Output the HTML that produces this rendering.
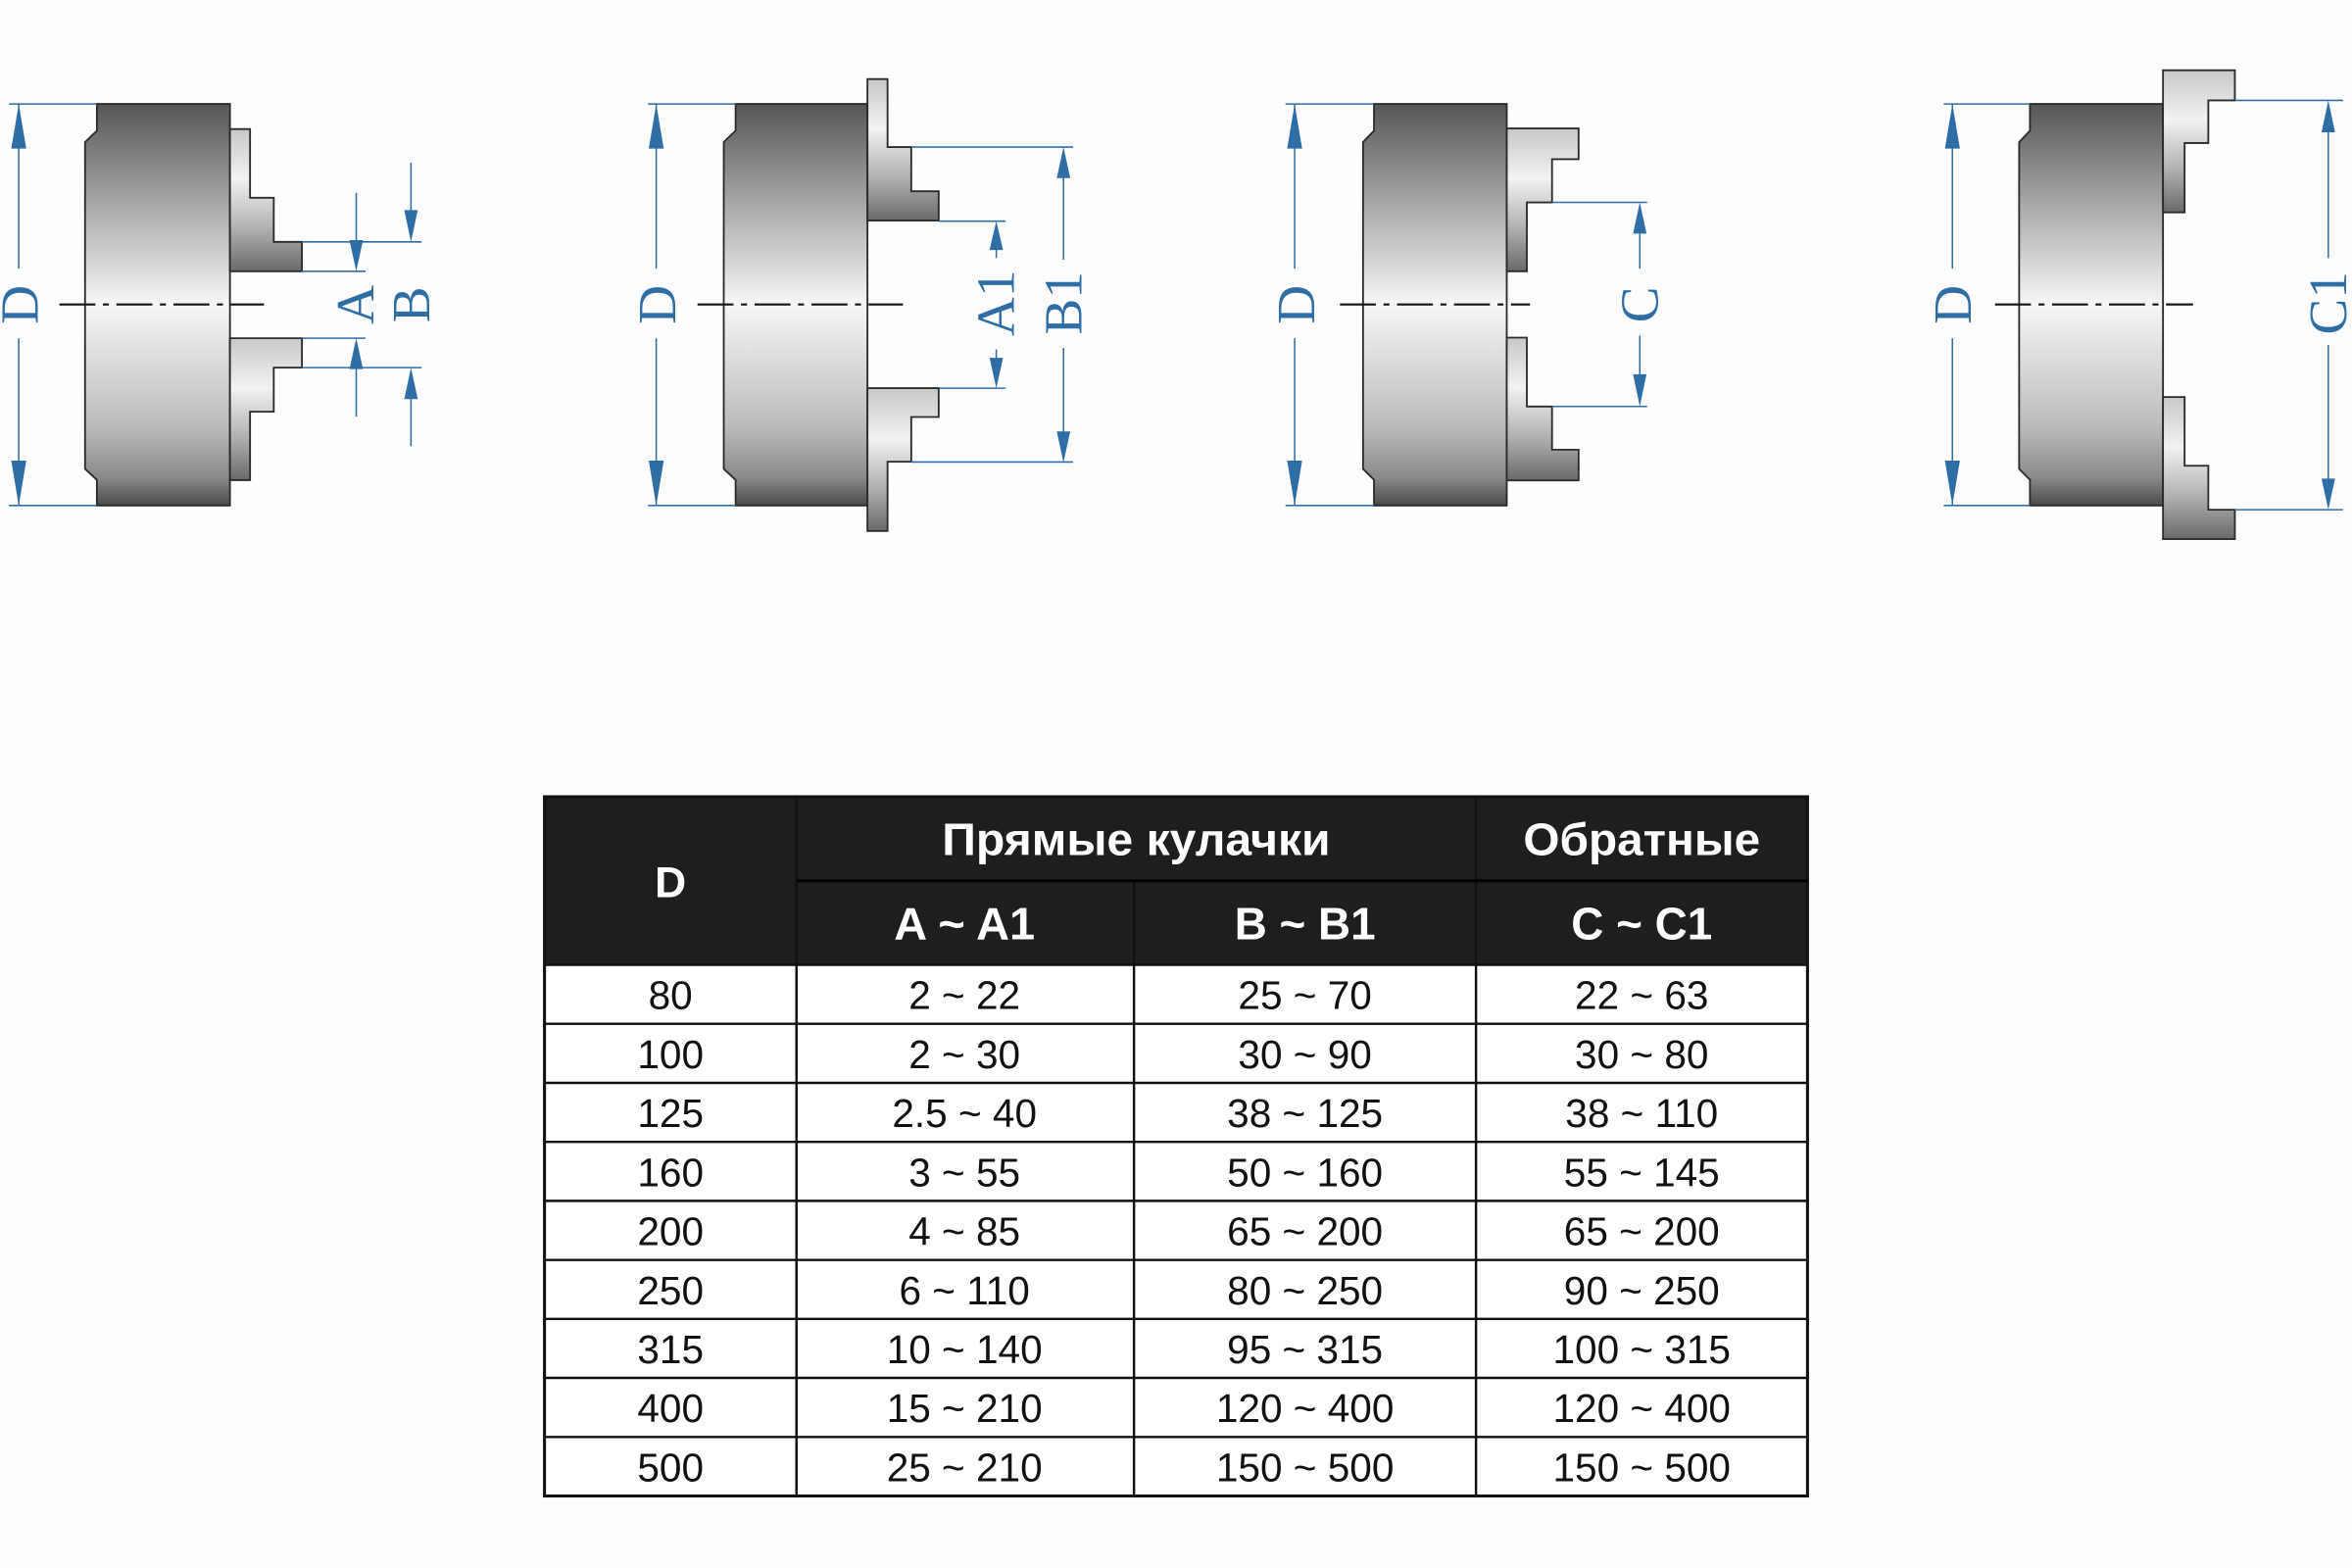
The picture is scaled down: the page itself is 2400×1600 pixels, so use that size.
<!DOCTYPE html>
<html><head><meta charset="utf-8"><style>html,body{margin:0;padding:0;background:#fdfdfd}svg{display:block}</style></head>
<body>
<svg xmlns="http://www.w3.org/2000/svg" width="2400" height="1600" viewBox="0 0 1568 1045" preserveAspectRatio="none">
<defs>
<linearGradient id="body" x1="0" y1="0" x2="0" y2="1">
<stop offset="0" stop-color="#565656"/><stop offset="0.25" stop-color="#a8a8a8"/><stop offset="0.5" stop-color="#f6f6f6"/><stop offset="0.8" stop-color="#bcbcbc"/><stop offset="0.93" stop-color="#8a8a8a"/><stop offset="1" stop-color="#4a4a4a"/>
</linearGradient>
<linearGradient id="jaw" x1="0" y1="0" x2="0" y2="1">
<stop offset="0" stop-color="#c8c8c8"/><stop offset="0.35" stop-color="#f2f2f2"/><stop offset="0.7" stop-color="#b0b0b0"/><stop offset="1" stop-color="#6a6a6a"/>
</linearGradient>
</defs>
<rect width="1568" height="1045" fill="#fdfdfd"/>

<g stroke="#2a2a2a" stroke-width="1.2">
<path d="M64.6,69.3 H153.3 V336.9 H64.6 V319.8 L56.7,312.5 V94.7 L64.6,87.1 Z" fill="url(#body)"/>
<path d="M490.4,69.3 H578.3 V336.9 H490.4 V319.8 L482.5,312.5 V94.7 L490.4,87.1 Z" fill="url(#body)"/>
<path d="M916,69.3 H1004.5 V336.9 H916 V319.8 L908.7,312.5 V94.7 L916,87.1 Z" fill="url(#body)"/>
<path d="M1353.3,69.3 H1442 V336.9 H1353.3 V319.8 L1346.1,312.5 V94.7 L1353.3,87.1 Z" fill="url(#body)"/>

<path d="M153.3,86 H166.7 V131.8 H182.5 V161.2 H201.3 V180.8 H153.3 Z" fill="url(#jaw)"/>
<path d="M153.3,225.4 H201.3 V245 H182.5 V274.4 H166.7 V320 H153.3 Z" fill="url(#jaw)"/>
<path d="M578.3,52.7 H591.7 V98 H607.5 V127.5 H625.8 V147 H578.3 Z" fill="url(#jaw)"/>
<path d="M578.3,258.7 H625.8 V277.9 H607.5 V307.7 H591.7 V353.9 H578.3 Z" fill="url(#jaw)"/>
<path d="M1004.5,85.6 H1052.4 V106.1 H1034.7 V134.9 H1017.9 V180.8 H1004.5 Z" fill="url(#jaw)"/>
<path d="M1004.5,225 H1017.9 V270.9 H1034.7 V299.7 H1052.4 V320.2 H1004.5 Z" fill="url(#jaw)"/>
<path d="M1442,46.8 H1489.9 V66.9 H1472.2 V95.3 H1456.4 V141.5 H1442 Z" fill="url(#jaw)"/>
<path d="M1442,264.6 H1456.4 V310.4 H1472.2 V339.7 H1489.9 V359.3 H1442 Z" fill="url(#jaw)"/>
</g>

<g stroke="#111" stroke-width="1.4" stroke-dasharray="24 5 4 5">
<line x1="39.6" y1="202.9" x2="176" y2="202.9"/>
<line x1="465" y1="202.9" x2="602" y2="202.9"/>
<line x1="893.3" y1="202.9" x2="1020" y2="202.9"/>
<line x1="1330" y1="202.9" x2="1462" y2="202.9"/>
</g>

<g stroke="#2f6ea5" stroke-width="1" fill="none">
<line x1="6" y1="69.3" x2="64.6" y2="69.3"/><line x1="6" y1="336.9" x2="64.6" y2="336.9"/>
<line x1="12.5" y1="69.3" x2="12.5" y2="179"/><line x1="12.5" y1="225.4" x2="12.5" y2="336.9"/>
<line x1="432" y1="69.3" x2="490.4" y2="69.3"/><line x1="432" y1="336.9" x2="490.4" y2="336.9"/>
<line x1="437.5" y1="69.3" x2="437.5" y2="179"/><line x1="437.5" y1="225.4" x2="437.5" y2="336.9"/>
<line x1="857" y1="69.3" x2="916" y2="69.3"/><line x1="857" y1="336.9" x2="916" y2="336.9"/>
<line x1="863.1" y1="69.3" x2="863.1" y2="179"/><line x1="863.1" y1="225.4" x2="863.1" y2="336.9"/>
<line x1="1295.8" y1="69.3" x2="1353.3" y2="69.3"/><line x1="1295.8" y1="336.9" x2="1353.3" y2="336.9"/>
<line x1="1301.6" y1="69.3" x2="1301.6" y2="179"/><line x1="1301.6" y1="225.4" x2="1301.6" y2="336.9"/>
<line x1="201.3" y1="161.2" x2="281" y2="161.2"/><line x1="201.3" y1="180.8" x2="243.7" y2="180.8"/>
<line x1="201.3" y1="225.4" x2="243.7" y2="225.4"/><line x1="201.3" y1="245" x2="281" y2="245"/>
<line x1="237.5" y1="128.5" x2="237.5" y2="165"/><line x1="237.5" y1="240" x2="237.5" y2="277.7"/>
<line x1="274" y1="108.4" x2="274" y2="145"/><line x1="274" y1="262" x2="274" y2="297.3"/>
<line x1="607.5" y1="98" x2="715.4" y2="98"/><line x1="625.8" y1="147.4" x2="670.4" y2="147.4"/>
<line x1="625.8" y1="258.7" x2="670.4" y2="258.7"/><line x1="607.5" y1="307.9" x2="715.4" y2="307.9"/>
<line x1="664.2" y1="160" x2="664.2" y2="172"/><line x1="664.2" y1="232.9" x2="664.2" y2="245"/>
<line x1="709" y1="110" x2="709" y2="173.1"/><line x1="709" y1="231.9" x2="709" y2="295"/>
<line x1="1034.7" y1="134.9" x2="1098.1" y2="134.9"/><line x1="1034.7" y1="270.9" x2="1098.1" y2="270.9"/>
<line x1="1093.2" y1="145" x2="1093.2" y2="179"/><line x1="1093.2" y1="223.7" x2="1093.2" y2="260"/>
<line x1="1489.9" y1="66.9" x2="1562" y2="66.9"/><line x1="1489.9" y1="339.7" x2="1562" y2="339.7"/>
<line x1="1552.2" y1="80" x2="1552.2" y2="172"/><line x1="1552.2" y1="229.8" x2="1552.2" y2="328"/>
</g>

<g fill="#2f6ea5">
<polygon points="12.5,69.3 7.5,99 17.5,99"/><polygon points="12.5,336.9 7.5,307 17.5,307"/>
<polygon points="437.5,69.3 432.5,99 442.5,99"/><polygon points="437.5,336.9 432.5,307 442.5,307"/>
<polygon points="863.1,69.3 858.1,99 868.1,99"/><polygon points="863.1,336.9 858.1,307 868.1,307"/>
<polygon points="1301.6,69.3 1296.6,99 1306.6,99"/><polygon points="1301.6,336.9 1296.6,307 1306.6,307"/>
<polygon points="237.5,180.8 233,160 242,160"/><polygon points="237.5,225.4 233,246 242,246"/>
<polygon points="274,161.2 269.5,140 278.5,140"/><polygon points="274,245 269.5,266 278.5,266"/>
<polygon points="664.2,147.4 659.7,166.6 668.7,166.6"/><polygon points="664.2,258.7 659.7,238.5 668.7,238.5"/>
<polygon points="709,98 704.5,118.7 713.5,118.7"/><polygon points="709,308.1 704.5,287.5 713.5,287.5"/>
<polygon points="1093.2,134.9 1088.7,155.7 1097.7,155.7"/><polygon points="1093.2,270.9 1088.7,249.4 1097.7,249.4"/>
<polygon points="1552.2,66.9 1547.7,88.2 1556.7,88.2"/><polygon points="1552.2,339.7 1547.7,319 1556.7,319"/>
</g>

<g fill="#2f6ea5" font-family="Liberation Serif, serif" font-size="36" text-anchor="middle">
<text transform="translate(25,203) rotate(-90)">D</text>
<text transform="translate(450,203) rotate(-90)">D</text>
<text transform="translate(876,203) rotate(-90)">D</text>
<text transform="translate(1314,203) rotate(-90)">D</text>
<text transform="translate(249,203) rotate(-90)">A</text>
<text transform="translate(286,203) rotate(-90)">B</text>
<text transform="translate(676,202) rotate(-90)">A1</text>
<text transform="translate(721,202) rotate(-90)">B1</text>
<text transform="translate(1105,203) rotate(-90)">C</text>
<text transform="translate(1564,202) rotate(-90)">C1</text>
</g>

<rect x="363" y="531" width="842" height="112" fill="#1e1e1e"/>
<rect x="363" y="643" width="842" height="354" fill="#ffffff"/>
<g stroke="#111" stroke-width="1.6">
<rect x="363" y="531" width="842" height="466" fill="none" stroke-width="2"/>
<line x1="531" y1="531" x2="531" y2="997"/>
<line x1="984" y1="531" x2="984" y2="997"/>
<line x1="756" y1="587" x2="756" y2="997"/>
<line x1="531" y1="587" x2="1205" y2="587" stroke="#000" stroke-width="2"/>
<line x1="363" y1="643" x2="1205" y2="643"/>
<line x1="363" y1="682.3" x2="1205" y2="682.3"/>
<line x1="363" y1="721.7" x2="1205" y2="721.7"/>
<line x1="363" y1="761" x2="1205" y2="761"/>
<line x1="363" y1="800.3" x2="1205" y2="800.3"/>
<line x1="363" y1="839.7" x2="1205" y2="839.7"/>
<line x1="363" y1="879" x2="1205" y2="879"/>
<line x1="363" y1="918.3" x2="1205" y2="918.3"/>
<line x1="363" y1="957.7" x2="1205" y2="957.7"/>
</g>
<g fill="#fff" font-family="Liberation Sans, sans-serif" font-weight="bold" text-anchor="middle">
<text x="447" y="598" font-size="29">D</text>
<text x="757.5" y="570" font-size="30" textLength="259" lengthAdjust="spacingAndGlyphs">Прямые кулачки</text>
<text x="1094.5" y="570" font-size="30" textLength="158" lengthAdjust="spacingAndGlyphs">Обратные</text>
<text x="643" y="626" font-size="30" textLength="94" lengthAdjust="spacingAndGlyphs">A ~ A1</text>
<text x="870" y="626" font-size="30" textLength="94" lengthAdjust="spacingAndGlyphs">B ~ B1</text>
<text x="1094.5" y="626" font-size="30" textLength="94" lengthAdjust="spacingAndGlyphs">C ~ C1</text>
</g>
<g fill="#111" font-family="Liberation Sans, sans-serif" font-size="26.5" text-anchor="middle">
<text x="447" y="672.5">80</text><text x="643" y="672.5">2 ~ 22</text><text x="870" y="672.5">25 ~ 70</text><text x="1094.5" y="672.5">22 ~ 63</text>
<text x="447" y="711.8">100</text><text x="643" y="711.8">2 ~ 30</text><text x="870" y="711.8">30 ~ 90</text><text x="1094.5" y="711.8">30 ~ 80</text>
<text x="447" y="751.2">125</text><text x="643" y="751.2">2.5 ~ 40</text><text x="870" y="751.2">38 ~ 125</text><text x="1094.5" y="751.2">38 ~ 110</text>
<text x="447" y="790.5">160</text><text x="643" y="790.5">3 ~ 55</text><text x="870" y="790.5">50 ~ 160</text><text x="1094.5" y="790.5">55 ~ 145</text>
<text x="447" y="829.8">200</text><text x="643" y="829.8">4 ~ 85</text><text x="870" y="829.8">65 ~ 200</text><text x="1094.5" y="829.8">65 ~ 200</text>
<text x="447" y="869.2">250</text><text x="643" y="869.2">6 ~ 110</text><text x="870" y="869.2">80 ~ 250</text><text x="1094.5" y="869.2">90 ~ 250</text>
<text x="447" y="908.5">315</text><text x="643" y="908.5">10 ~ 140</text><text x="870" y="908.5">95 ~ 315</text><text x="1094.5" y="908.5">100 ~ 315</text>
<text x="447" y="947.8">400</text><text x="643" y="947.8">15 ~ 210</text><text x="870" y="947.8">120 ~ 400</text><text x="1094.5" y="947.8">120 ~ 400</text>
<text x="447" y="987.2">500</text><text x="643" y="987.2">25 ~ 210</text><text x="870" y="987.2">150 ~ 500</text><text x="1094.5" y="987.2">150 ~ 500</text>
</g>
</svg>
</body></html>
